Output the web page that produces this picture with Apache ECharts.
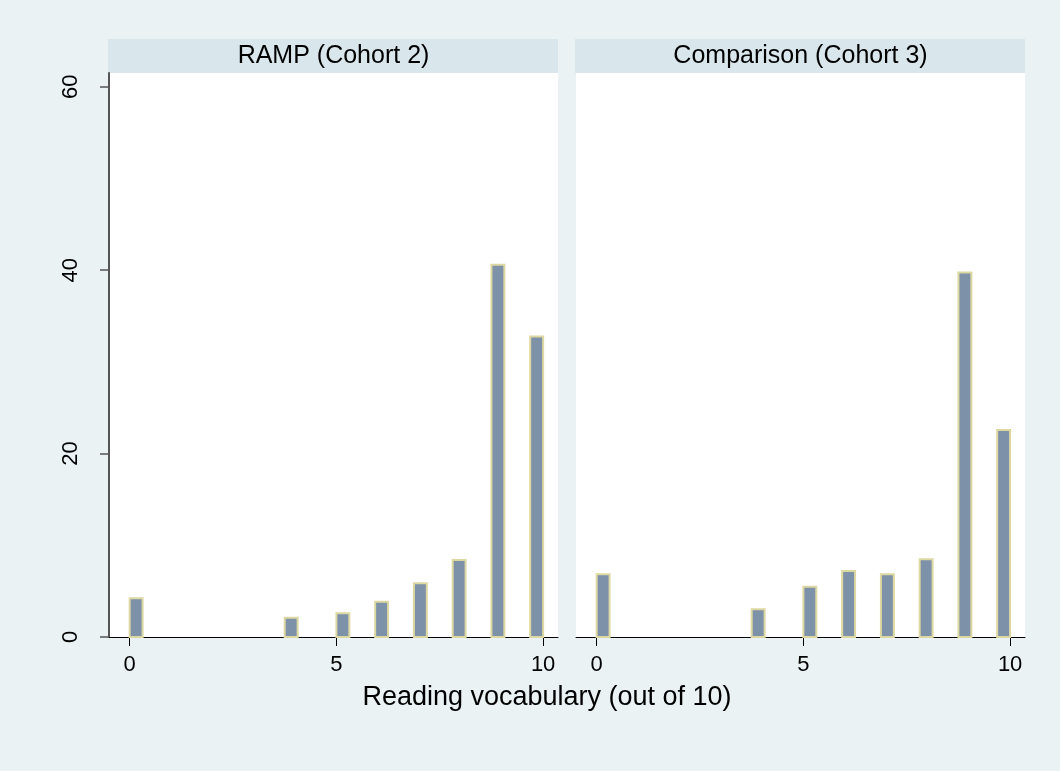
<!DOCTYPE html>
<html>
<head>
<meta charset="utf-8">
<script src="https://cdn.jsdelivr.net/npm/echarts@6/dist/echarts.min.js"></script>
<style>
html,body{margin:0;padding:0;background:#EAF2F3;}
#chart{width:1060px;height:771px;}
</style>
</head>
<body>
<div id="chart"></div>
<script>
// ---- data ----
const scores = [0, 4, 5, 6, 7, 8, 9, 10];
const rampPercent = [4.22, 2.1, 2.59, 3.85, 5.86, 8.4, 40.58, 32.76];
const comparisonPercent = [6.84, 3.02, 5.49, 7.2, 6.84, 8.48, 39.74, 22.58];
const panelTitles = ['RAMP (Cohort 2)', 'Comparison (Cohort 3)'];
const xTickValues = [0, 5, 10];
const yTickValues = [0, 20, 40, 60];
const xTitle = 'Reading vocabulary (out of 10)';
const binCount = 32;
const scoreMax = 10;

// ---- layout / style ----
const W = 1060, H = 771;
const FONT = '"Liberation Sans", Arial, sans-serif';
const plotTop = 73, plotBottom = 637;
const panels = [{left: 109, right: 558}, {left: 576, right: 1025}];
const headerTop = 39;
const binWidth = scoreMax / binCount;

function histData(vals) {
  return scores.map((s, i) => [s, vals[i]]);
}

function renderBar(params, api) {
  const s = api.value(0);
  const v = api.value(1);
  const idx = Math.min(Math.floor(s / binWidth + 1e-9), binCount - 1);
  const x0 = idx * binWidth, x1 = x0 + binWidth;
  const p0 = api.coord([x0, v]);
  const p1 = api.coord([x1, 0]);
  return {
    type: 'rect',
    shape: {x: p0[0], y: p0[1], width: p1[0] - p0[0], height: p1[1] - p0[1]},
    style: {fill: '#7D91A9', stroke: '#DDD8A2', lineWidth: 2}
  };
}

const grids = panels.map(p => ({
  left: p.left, right: W - p.right, top: plotTop, bottom: H - plotBottom,
  show: true, backgroundColor: '#ffffff', borderWidth: 0
}));

const xAxes = panels.map((p, i) => ({
  type: 'value', gridIndex: i, min: -0.5, max: 10.36,
  axisLine: {show: true, onZero: false, lineStyle: {color: '#000', width: 1}},
  axisTick: {show: true, length: 9, lineStyle: {color: '#000', width: 1}, customValues: xTickValues},
  axisLabel: {show: true, customValues: xTickValues, fontFamily: FONT, fontSize: 22, color: '#000', margin: 17},
  splitLine: {show: false}
}));

const yAxes = panels.map((p, i) => ({
  type: 'value', gridIndex: i, min: 0, max: 61.5,
  show: i === 0,
  axisLine: {show: true, onZero: false, lineStyle: {color: '#555', width: 2}},
  axisTick: {show: true, length: 9, lineStyle: {color: '#555', width: 1.5}, customValues: yTickValues},
  axisLabel: {show: true, customValues: yTickValues, rotate: 90, fontFamily: FONT, fontSize: 22, color: '#000', margin: 27},
  splitLine: {show: false}
}));

const graphics = [];
panels.forEach((p, i) => {
  graphics.push({
    type: 'rect', z: 0,
    shape: {x: p.left - 1, y: headerTop, width: p.right - p.left + 1, height: plotTop - headerTop},
    style: {fill: '#D9E6EB'}
  });
  graphics.push({
    type: 'text', z: 1,
    x: (p.left + p.right) / 2, y: (headerTop + plotTop) / 2,
    style: {text: panelTitles[i], fontFamily: FONT, fontSize: 25, fill: '#000', align: 'center', verticalAlign: 'middle'}
  });
});
graphics.push({
  type: 'text', x: 547, y: 698,
  style: {text: xTitle, fontFamily: FONT, fontSize: 27, fill: '#000', align: 'center', verticalAlign: 'middle'}
});

const chart = echarts.init(document.getElementById('chart'), null, {renderer: 'canvas'});
chart.setOption({
  backgroundColor: '#EAF2F3',
  animation: false,
  grid: grids,
  xAxis: xAxes,
  yAxis: yAxes,
  graphic: graphics,
  series: [
    {type: 'custom', xAxisIndex: 0, yAxisIndex: 0, renderItem: renderBar, data: histData(rampPercent), clip: false},
    {type: 'custom', xAxisIndex: 1, yAxisIndex: 1, renderItem: renderBar, data: histData(comparisonPercent), clip: false}
  ]
});
</script>
</body>
</html>
